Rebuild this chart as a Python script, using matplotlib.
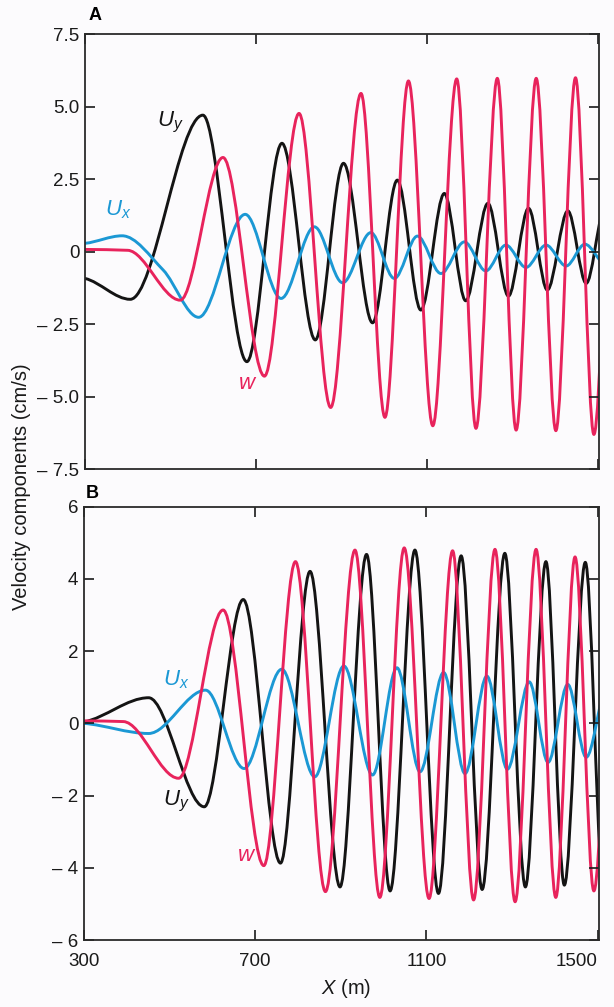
import numpy as np
import matplotlib
matplotlib.use("Agg")
import matplotlib.pyplot as plt
from matplotlib.path import Path
from matplotlib.patches import PathPatch

plt.rcParams['font.family'] = ['Liberation Sans', 'DejaVu Sans']
plt.rcParams['mathtext.fontset'] = 'custom'
plt.rcParams['mathtext.rm'] = 'Liberation Sans'
plt.rcParams['mathtext.it'] = 'Liberation Sans:italic'

RED = '#e8235c'
BLUE = '#1b98d4'
BLACK = '#141414'

# ---------------- data (x in m, velocity in cm/s) ----------------
# Panel A
a_uy_x = [300, 406, 576, 679, 761, 839, 905, 973, 1031, 1086, 1141, 1191, 1243, 1291, 1338, 1382, 1430, 1473, 1512]
a_uy_y = [-0.92, -1.64, 4.71, -3.79, 3.74, -3.04, 3.05, -2.45, 2.47, -2.01, 2.01, -1.69, 1.67, -1.53, 1.50, -1.32, 1.41, -1.09, 1.40]

a_ux_x = [300, 387, 483, 566, 675, 759, 837, 903, 969, 1024, 1078, 1133, 1188, 1238, 1285, 1332, 1379, 1426, 1470, 1516]
a_ux_y = [0.29, 0.55, -0.63, -2.26, 1.29, -1.61, 0.86, -1.07, 0.66, -0.92, 0.54, -0.75, 0.34, -0.66, 0.23, -0.54, 0.23, -0.49, 0.26, -0.45]

a_w_x = [300, 400, 523, 623, 720, 801, 875, 946, 1002, 1057, 1114, 1170, 1215, 1265, 1309, 1356, 1402, 1448, 1491, 1536]
a_w_y = [0.08, 0.05, -1.67, 3.25, -4.29, 4.77, -5.37, 5.46, -5.71, 5.89, -6.00, 5.96, -6.09, 5.98, -6.15, 5.98, -6.17, 6.00, -6.30, 6.00]

# Panel B
b_uy_x = [300, 451, 581, 672, 759, 828, 898, 960, 1015, 1073, 1128, 1181, 1230, 1283, 1331, 1379, 1422, 1471, 1510]
b_uy_y = [0.04, 0.71, -2.31, 3.43, -3.87, 4.21, -4.53, 4.68, -4.64, 4.80, -4.71, 4.64, -4.60, 4.71, -4.53, 4.48, -4.48, 4.46, -4.50]

b_ux_x = [300, 451, 584, 674, 762, 839, 907, 974, 1031, 1085, 1140, 1190, 1241, 1289, 1340, 1384, 1430, 1473, 1518]
b_ux_y = [0.00, -0.28, 0.92, -1.25, 1.50, -1.48, 1.59, -1.43, 1.54, -1.34, 1.41, -1.39, 1.31, -1.27, 1.15, -1.08, 1.08, -0.94, 1.00]

b_w_x = [300, 392, 521, 625, 720, 794, 864, 933, 991, 1048, 1106, 1161, 1210, 1260, 1307, 1356, 1402, 1447, 1491, 1537]
b_w_y = [0.07, 0.05, -1.52, 3.14, -3.94, 4.48, -4.66, 4.80, -4.82, 4.86, -4.85, 4.78, -4.89, 4.82, -4.94, 4.82, -4.82, 4.61, -4.64, 4.60]

x_ticks = [300, 700, 1100, 1500]
a_yticks = [7.5, 5.0, 2.5, 0, -2.5, -5.0, -7.5]
a_ylabels = ['7.5', '5.0', '2.5', '0', '\u2013 2.5', '\u2013 5.0', '\u2013 7.5']
b_yticks = [6, 4, 2, 0, -2, -4, -6]
b_ylabels = ['6', '4', '2', '0', '\u2013 2', '\u2013 4', '\u2013 6']


def smooth_path(xs, ys):
    """Monotone (PCHIP-style) cubic Bezier path through the read points."""
    x = np.asarray(xs, float)
    y = np.asarray(ys, float)
    h = np.diff(x)
    d = np.diff(y) / h
    n = len(x)
    m = np.zeros(n)
    for k in range(1, n - 1):
        if d[k - 1] * d[k] > 0:
            w1 = 2 * h[k] + h[k - 1]
            w2 = h[k] + 2 * h[k - 1]
            m[k] = (w1 + w2) / (w1 / d[k - 1] + w2 / d[k])
    m[0] = d[0] * 0.5
    m[-1] = d[-1] * 0.5
    verts = [(x[0], y[0])]
    codes = [Path.MOVETO]
    for k in range(n - 1):
        verts += [(x[k] + h[k] / 3, y[k] + m[k] * h[k] / 3),
                  (x[k + 1] - h[k] / 3, y[k + 1] - m[k + 1] * h[k] / 3),
                  (x[k + 1], y[k + 1])]
        codes += [Path.CURVE4] * 3
    return Path(verts, codes)


def draw(ax, xs, ys, color):
    patch = PathPatch(smooth_path(xs, ys), facecolor='none', edgecolor=color,
                      lw=2.1, capstyle='round', joinstyle='round')
    ax.add_patch(patch)
    patch.set_clip_path(ax.patch)


fig = plt.figure(figsize=(6.14, 10.07), dpi=100)
fig.patch.set_facecolor('#fcfbfd')

axA = fig.add_axes([0.1384, 0.534, 0.8372, 0.432])
axB = fig.add_axes([0.1368, 0.0665, 0.8388, 0.4303])

for ax in (axA, axB):
    ax.set_facecolor('#fcfbfd')
    ax.set_xlim(300, 1503)
    ax.set_xticks(x_ticks)
    ax.tick_params(direction='in', length=7, width=1.2, top=True, right=True,
                   labelsize=13.5, colors='#1a1a1a')
    ax.tick_params(axis='x', pad=9)
    ax.tick_params(axis='y', pad=4)
    for s in ax.spines.values():
        s.set_linewidth(1.3)
        s.set_color('#2a2a2a')

draw(axA, a_uy_x, a_uy_y, BLACK)
draw(axA, a_ux_x, a_ux_y, BLUE)
draw(axA, a_w_x, a_w_y, RED)
axA.set_ylim(-7.5, 7.5)
axA.set_yticks(a_yticks)
axA.set_yticklabels(a_ylabels)
axA.set_xticklabels([])

draw(axB, b_uy_x, b_uy_y, BLACK)
draw(axB, b_ux_x, b_ux_y, BLUE)
draw(axB, b_w_x, b_w_y, RED)
axB.set_ylim(-6, 6)
axB.set_yticks(b_yticks)
axB.set_yticklabels(b_ylabels)
xl = axB.set_xticklabels([str(v) for v in x_ticks])
xl[-1].set_ha('right')
xl[-1].set_x(1508)

# panel letters
fig.text(95 / 614, 1 - 15 / 1007, 'A', fontsize=13, fontweight='bold', ha='center', va='center')
fig.text(92 / 614, 1 - 493 / 1007, 'B', fontsize=13, fontweight='bold', ha='center', va='center')

# curve labels
axA.text(500, 4.47, r'$U_y$', color=BLACK, fontsize=16, ha='center', va='center')
axA.text(378, 1.44, r'$U_x$', color=BLUE, fontsize=16, ha='center', va='center')
axA.text(680, -4.53, r'$w$', color=RED, fontsize=16, ha='center', va='center')
axB.text(515, 1.2, r'$U_x$', color=BLUE, fontsize=16, ha='center', va='center')
axB.text(515, -2.17, r'$U_y$', color=BLACK, fontsize=16, ha='center', va='center')
axB.text(681, -3.65, r'$w$', color=RED, fontsize=16, ha='center', va='center')

fig.text(22 / 614, 1 - 487 / 1007, 'Velocity components (cm/s)', rotation=90,
         fontsize=14.5, ha='center', va='center', color='#1a1a1a')
fig.text(346 / 614, 1 - 988 / 1007, r'$X$ (m)', fontsize=14.5, ha='center', va='center',
         color='#1a1a1a')

fig.savefig('out.png', dpi=100, facecolor=fig.get_facecolor())
